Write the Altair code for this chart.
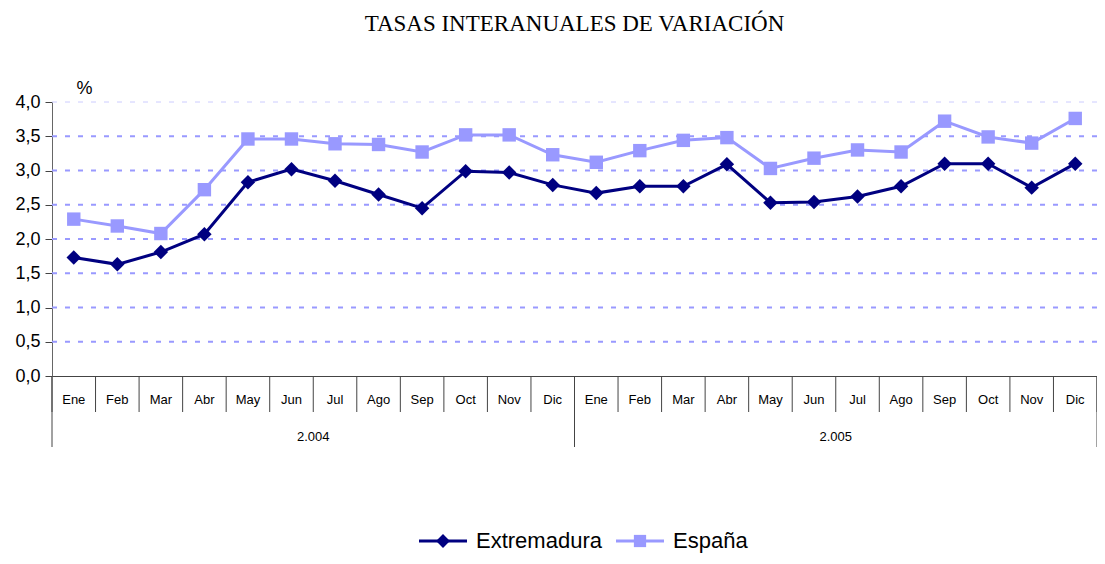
import altair as alt
import pandas as pd

# ---- data ----
months = ["Ene", "Feb", "Mar", "Abr", "May", "Jun", "Jul", "Ago", "Sep", "Oct", "Nov", "Dic"]
years = ["2.004", "2.005"]
series = ["Extremadura", "España"]
extremadura = [1.73, 1.63, 1.81, 2.07, 2.83, 3.02, 2.85, 2.65, 2.45, 2.99, 2.97, 2.79,
               2.67, 2.77, 2.77, 3.09, 2.53, 2.54, 2.62, 2.77, 3.10, 3.10, 2.75, 3.10]
espana = [2.29, 2.19, 2.08, 2.72, 3.46, 3.46, 3.39, 3.38, 3.27, 3.52, 3.52, 3.23,
          3.12, 3.29, 3.44, 3.48, 3.03, 3.18, 3.30, 3.27, 3.72, 3.49, 3.40, 3.76]
y_ticks = [0.0, 0.5, 1.0, 1.5, 2.0, 2.5, 3.0, 3.5, 4.0]
colors = ["#000080", "#9999FF"]
title_text = "TASAS INTERANUALES DE VARIACIÓN"

# ---- tables ----
n = len(months) * len(years)
rows = []
for name, vals in zip(series, [extremadura, espana]):
    for i, v in enumerate(vals):
        rows.append({"pos": i + 0.5, "serie": name, "valor": v})
df = pd.DataFrame(rows)

cat_df = pd.DataFrame({"pos": [i + 0.5 for i in range(n)],
                       "mes": [months[i % len(months)] for i in range(n)]})
sep_df = pd.DataFrame({"b": list(range(n + 1))})
long_df = pd.DataFrame({"b": [k * len(months) for k in range(len(years) + 1)]})
year_df = pd.DataFrame({"pos": [k * len(months) + len(months) / 2 for k in range(len(years))],
                        "anio": years})
grid_df = pd.DataFrame({"valor": [v for v in y_ticks if 0 < v < max(y_ticks)]})
top_df = pd.DataFrame({"valor": [max(y_ticks)]})

W, H = 1045, 274
xscale = alt.Scale(domain=[0, n], nice=False, zero=False)
yscale = alt.Scale(domain=[0, 4], nice=False)
color_scale = alt.Scale(domain=series, range=colors)

x_enc = alt.X("pos:Q", scale=xscale,
              axis=alt.Axis(labels=False, ticks=False, grid=False, title=None,
                            domainColor="#444444", domainWidth=1))
y_axis = alt.Axis(values=y_ticks, labelOverlap=False,
                  labelExpr="replace(format(datum.value, '.1f'), '.', ',')",
                  labelFont="Liberation Sans", labelFontSize=18,
                  labelColor="black", labelPadding=5,
                  tickColor="#444444", tickSize=7,
                  domainColor="#666666", grid=False,
                  title="%", titleAngle=0, titleX=32, titleY=-14,
                  titleAlign="center", titleBaseline="middle",
                  titleFont="Liberation Sans", titleFontSize=18,
                  titleFontWeight="normal", titleColor="black")
y_enc = alt.Y("valor:Q", scale=yscale, axis=y_axis)

grid = alt.Chart(grid_df).mark_rule(color="#9999ff", strokeWidth=2, strokeDash=[5, 8]).encode(
    y=y_enc, x=alt.value(0), x2=alt.value(W))
grid_top = alt.Chart(top_df).mark_rule(color="#ccccff", strokeWidth=1, strokeDash=[5, 8]).encode(
    y=y_enc, x=alt.value(0), x2=alt.value(W))

base = alt.Chart(df)
lines = base.mark_line(strokeWidth=3).encode(
    x=x_enc, y=y_enc,
    color=alt.Color("serie:N", scale=color_scale, legend=None),
    order=alt.Order("pos:Q"),
)
points = base.mark_point(filled=True, opacity=1).encode(
    x=x_enc, y=y_enc,
    color=alt.Color("serie:N", scale=color_scale, legend=None),
    shape=alt.Shape("serie:N", scale=alt.Scale(domain=series, range=["diamond", "square"]), legend=None),
    size=alt.Size("serie:N", scale=alt.Scale(domain=series, range=[210, 180]), legend=None),
)

short_sep = alt.Chart(sep_df).mark_rule(color="#444444", strokeWidth=1).encode(
    x=alt.X("b:Q", scale=xscale), y=alt.value(H), y2=alt.value(H + 36))
long_sep = alt.Chart(long_df).mark_rule(color="#444444", strokeWidth=1).encode(
    x=alt.X("b:Q", scale=xscale), y=alt.value(H), y2=alt.value(H + 71))
month_txt = alt.Chart(cat_df).mark_text(font="Liberation Sans", fontSize=13, color="black",
                                        baseline="middle").encode(
    x=alt.X("pos:Q", scale=xscale), y=alt.value(H + 24), text="mes:N")
year_txt = alt.Chart(year_df).mark_text(font="Liberation Sans", fontSize=13, color="black",
                                        baseline="middle").encode(
    x=alt.X("pos:Q", scale=xscale), y=alt.value(H + 61), text="anio:N")

# ---- custom legend (line + marker + label) ----
legend_layers = []
leg_y = 439
leg_x0 = [367, 564]
shapes = ["diamond", "square"]
sizes = [190, 150]
for k, name in enumerate(series):
    ld = pd.DataFrame({"serie": [name]})
    c = colors[k]
    x0 = leg_x0[k]
    legend_layers.append(alt.Chart(ld).mark_rule(color=c, strokeWidth=3).encode(
        x=alt.value(x0), x2=alt.value(x0 + 48), y=alt.value(leg_y)))
    legend_layers.append(alt.Chart(ld).mark_point(shape=shapes[k], filled=True, opacity=1,
                                                  color=c, size=sizes[k]).encode(
        x=alt.value(x0 + 24), y=alt.value(leg_y)))
    legend_layers.append(alt.Chart(ld).mark_text(align="left", baseline="middle",
                                                 font="Liberation Sans", fontSize=22,
                                                 color="black").encode(
        x=alt.value(x0 + 57), y=alt.value(leg_y), text="serie:N"))

chart = alt.layer(
    grid_top, grid, lines, points, short_sep, long_sep, month_txt, year_txt, *legend_layers
).properties(
    width=W, height=H,
    title=alt.TitleParams(title_text, font="Liberation Serif", fontSize=23,
                          fontWeight="normal", color="black", anchor="middle", offset=43),
    autosize=alt.AutoSizeParams(type="none"),
    padding={"left": 44, "top": 94, "right": 0, "bottom": 180},
).configure_view(stroke=None)

chart.save("out.html", embed_options={"renderer": "svg", "actions": False})
